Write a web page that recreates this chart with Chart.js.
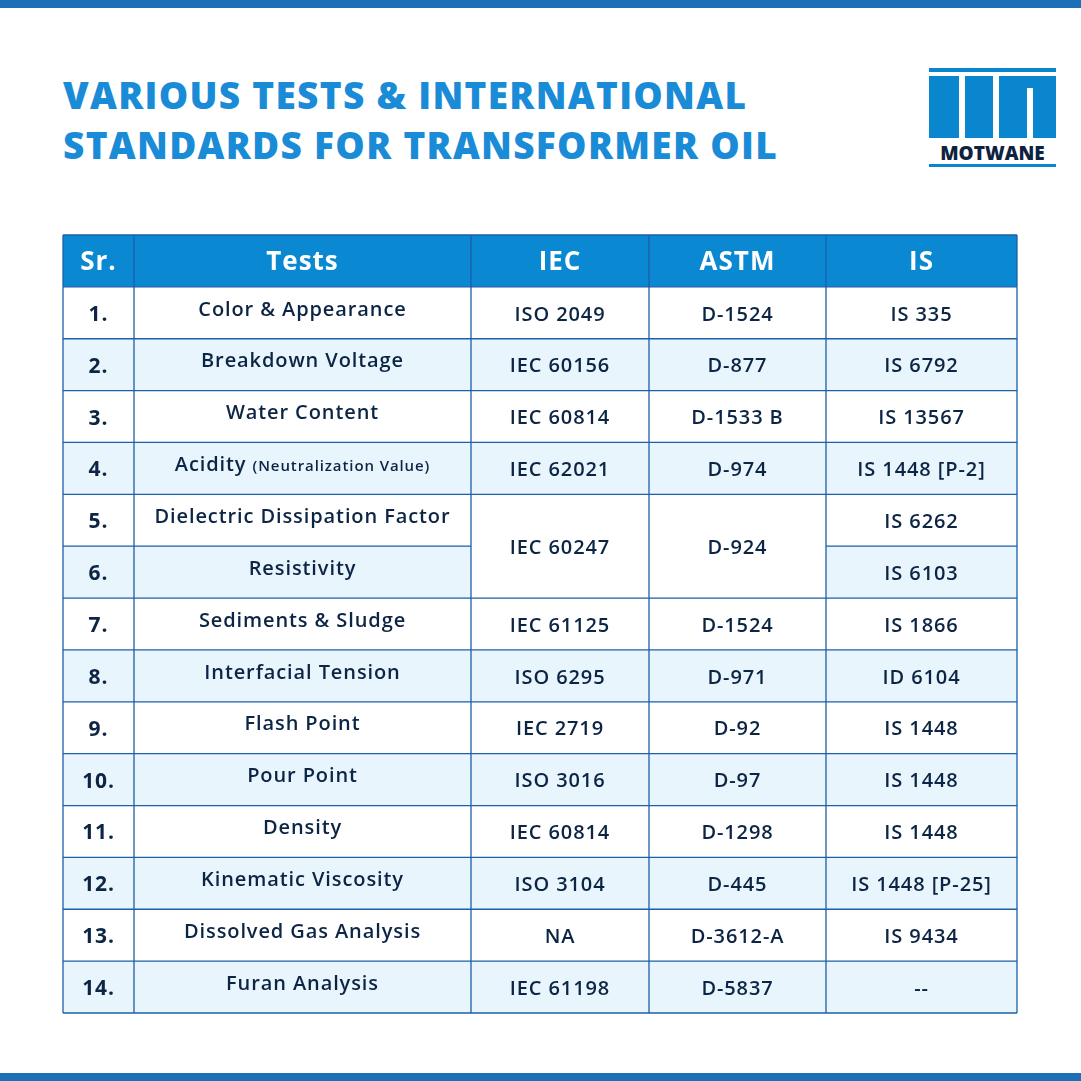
<!DOCTYPE html>
<html><head><meta charset="utf-8">
<script src="https://cdn.jsdelivr.net/npm/chart.js@4.4.0/dist/chart.umd.min.js"></script>
<style>
body{margin:0;width:1081px;height:1081px;position:relative;background:#fff;font-family:"Open Sans",sans-serif;overflow:hidden}
.bar{position:absolute;left:0;width:1081px;height:8px;background:#1d6fb8}
h1{position:absolute;left:63px;top:70px;margin:0;font:900 37px/50px "Open Sans",sans-serif;color:#1a8bd6;letter-spacing:1.3px}
#logo{position:absolute;left:929px;top:68px;width:127px;height:98px}
#wrap{position:absolute;left:0;top:0;width:1081px;height:1081px}
</style></head><body>
<div class="bar" style="top:0"></div>
<div class="bar" style="top:1073px"></div>
<h1>VARIOUS TESTS &amp; INTERNATIONAL<br>STANDARDS FOR TRANSFORMER OIL</h1>
<div id="logo">
 <div style="position:absolute;left:0;top:0;width:127px;height:4px;background:#0a86cf"></div>
 <div style="position:absolute;left:0;top:8px;width:127px;height:62px;background:#0a86cf"></div>
 <div style="position:absolute;left:30px;top:8px;width:6px;height:62px;background:#fff"></div>
 <div style="position:absolute;left:64px;top:8px;width:6px;height:62px;background:#fff"></div>
 <div style="position:absolute;left:98px;top:20px;width:6px;height:50px;background:#fff"></div>
 <div style="position:absolute;left:0;top:72px;width:127px;text-align:center;font:800 19px 'Open Sans';color:#0d2240">MOTWANE</div>
 <div style="position:absolute;left:0;top:96px;width:127px;height:3px;background:#0a86cf"></div>
</div>
<div id="wrap"><canvas id="c"></canvas></div>
<script>
const headers = ['Sr.', 'Tests', 'IEC', 'ASTM', 'IS'];
const srNos = ['1.','2.','3.','4.','5.','6.','7.','8.','9.','10.','11.','12.','13.','14.'];
const tests = ['Color & Appearance','Breakdown Voltage','Water Content','Acidity','Dielectric Dissipation Factor','Resistivity','Sediments & Sludge','Interfacial Tension','Flash Point','Pour Point','Density','Kinematic Viscosity','Dissolved Gas Analysis','Furan Analysis'];
const iec = ['ISO 2049','IEC 60156','IEC 60814','IEC 62021','IEC 60247','','IEC 61125','ISO 6295','IEC 2719','ISO 3016','IEC 60814','ISO 3104','NA','IEC 61198'];
const astm = ['D-1524','D-877','D-1533 B','D-974','D-924','','D-1524','D-971','D-92','D-97','D-1298','D-445','D-3612-A','D-5837'];
const isStd = ['IS 335','IS 6792','IS 13567','IS 1448 [P-2]','IS 6262','IS 6103','IS 1866','ID 6104','IS 1448','IS 1448','IS 1448','IS 1448 [P-25]','IS 9434','--'];
const colEdges = [0, 71, 408, 586, 763, 954];
const mergedRows = [4]; // rows 5-6 share IEC and ASTM

const tablePlugin = {
  id: 'table',
  afterDraw(chart) {
    const ctx = chart.ctx, xs = chart.scales.x, ys = chart.scales.y;
    const X = v => xs.getPixelForValue(v), Y = v => ys.getPixelForValue(v);
    const n = srNos.length;
    ctx.save();
    ctx.fillStyle = '#0a88d2';
    ctx.fillRect(X(0), Y(0), X(954) - X(0), Y(1) - Y(0));
    for (let r = 0; r < n; r++) {
      ctx.fillStyle = r % 2 ? '#e8f5fd' : '#ffffff';
      ctx.fillRect(X(0), Y(r + 1), X(954) - X(0), Y(r + 2) - Y(r + 1));
    }
    mergedRows.forEach(r => {
      ctx.fillStyle = '#ffffff';
      ctx.fillRect(X(colEdges[2]), Y(r + 1), X(colEdges[4]) - X(colEdges[2]), Y(r + 3) - Y(r + 1));
    });
    ctx.strokeStyle = '#1d5fa8';
    ctx.lineWidth = 1.3;
    for (let r = 0; r <= n + 1; r++) {
      ctx.beginPath();
      if (mergedRows.includes(r - 2)) {
        ctx.moveTo(X(0), Y(r)); ctx.lineTo(X(colEdges[2]), Y(r));
        ctx.moveTo(X(colEdges[4]), Y(r)); ctx.lineTo(X(954), Y(r));
      } else { ctx.moveTo(X(0), Y(r)); ctx.lineTo(X(954), Y(r)); }
      ctx.stroke();
    }
    colEdges.forEach(c => { ctx.beginPath(); ctx.moveTo(X(c), Y(0)); ctx.lineTo(X(c), Y(n + 1)); ctx.stroke(); });
    ctx.textAlign = 'center'; ctx.textBaseline = 'middle';
    const mid = i => (X(colEdges[i]) + X(colEdges[i + 1])) / 2;
    ctx.fillStyle = '#fff'; ctx.font = '700 26px "Open Sans"'; ctx.letterSpacing = '1px';
    headers.forEach((h, i) => ctx.fillText(h, mid(i), (Y(0) + Y(1)) / 2 + 2));
    ctx.fillStyle = '#0d2545'; ctx.letterSpacing = '0.9px';
    const body = '600 20px "Open Sans"', small = '600 15px "Open Sans"';
    for (let r = 0; r < n; r++) {
      const cy = (Y(r + 1) + Y(r + 2)) / 2 + 2;
      ctx.font = '700 21px "Open Sans"'; ctx.fillText(srNos[r], mid(0), cy);
      ctx.font = body;
      if (r === 3) {
        const a = 'Acidity ', b = '(Neutralization Value)';
        const wa = ctx.measureText(a).width;
        ctx.font = small; const wb = ctx.measureText(b).width;
        const sx = mid(1) - (wa + wb) / 2;
        ctx.textAlign = 'left';
        ctx.font = body; ctx.fillText(a, sx, cy - 5);
        ctx.font = small; ctx.fillText(b, sx + wa, cy - 4);
        ctx.textAlign = 'center'; ctx.font = body;
      } else ctx.fillText(tests[r], mid(1), cy - 5);
      const my = mergedRows.includes(r) ? Y(r + 2) + 2 : cy;
      if (iec[r]) ctx.fillText(iec[r], mid(2), my);
      if (astm[r]) ctx.fillText(astm[r], mid(3), my);
      ctx.fillText(isStd[r], mid(4), cy);
    }
    ctx.restore();
  }
};

new Chart(document.getElementById('c'), {
  type: 'scatter',
  data: { datasets: [{ data: [] }] },
  options: {
    responsive: true, maintainAspectRatio: false, animation: false,
    layout: { padding: { left: 63, right: 64, top: 235, bottom: 68 } },
    plugins: { legend: { display: false }, tooltip: { enabled: false } },
    scales: {
      x: { type: 'linear', min: 0, max: 954, display: false },
      y: { type: 'linear', min: 0, max: srNos.length + 1, reverse: true, display: false }
    }
  },
  plugins: [tablePlugin]
});
</script>
</body></html>
